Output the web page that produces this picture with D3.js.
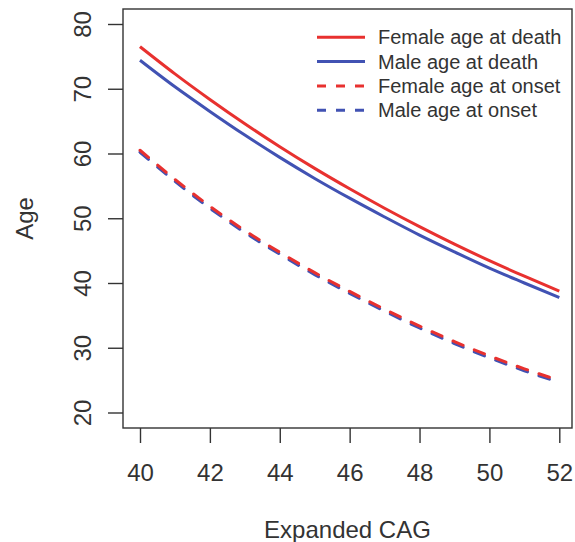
<!DOCTYPE html>
<html>
<head>
<meta charset="utf-8">
<script src="https://cdn.jsdelivr.net/npm/d3@7"></script>
<style>
  body { margin: 0; background: #fff; }
  svg { display: block; }
  text { font-family: "Liberation Sans", Arial, sans-serif; fill: #333; }
</style>
</head>
<body>
<svg id="chart" width="575" height="542"></svg>
<script>
// values, one per CAG repeat length
var cag = [40, 41, 42, 43, 44, 45, 46, 47, 48, 49, 50, 51, 52];
var femaleDeath = [76.5, 72.3, 68.35, 64.6, 61.05, 57.7, 54.55, 51.55, 48.7, 46.0, 43.45, 41.05, 38.75];
var maleDeath   = [74.4, 70.3, 66.5, 62.85, 59.4, 56.15, 53.1, 50.2, 47.4, 44.8, 42.3, 40.0, 37.75];
var femaleOnset = [60.5, 56.0, 51.85, 48.1, 44.75, 41.6, 38.7, 35.95, 33.35, 30.95, 28.75, 26.75, 24.95];
var maleOnset   = [60.2, 55.7, 51.55, 47.8, 44.45, 41.3, 38.4, 35.65, 33.05, 30.65, 28.45, 26.45, 24.65];
var xTicks = [40, 42, 44, 46, 48, 50, 52];
var yTicks = [20, 30, 40, 50, 60, 70, 80];

var red = "#e8312f", blue = "#4152b3";
var series = [
  {name: "Female age at death", values: femaleDeath, color: red, dash: null},
  {name: "Male age at death", values: maleDeath, color: blue, dash: null},
  {name: "Female age at onset", values: femaleOnset, color: red, dash: "11,12"},
  {name: "Male age at onset", values: maleOnset, color: blue, dash: "11,12"}
];

var svg = d3.select("svg#chart");
var box = {left: 123, right: 572, top: 9, bottom: 428};

var x = d3.scaleLinear().domain([40, 52]).range([140, 559.3]);
var y = d3.scaleLinear().domain([20, 80]).range([412.5, 24]);

// plot frame
svg.append("rect")
  .attr("x", box.left).attr("y", box.top)
  .attr("width", box.right - box.left).attr("height", box.bottom - box.top)
  .attr("fill", "none").attr("stroke", "#333").attr("stroke-width", 1.4);

// axes, R style: ticks outward, no domain line
var xAxis = svg.append("g")
  .attr("transform", "translate(0," + box.bottom + ")")
  .call(d3.axisBottom(x).tickValues(xTicks).tickSize(15).tickPadding(20));
var yAxis = svg.append("g")
  .attr("transform", "translate(" + box.left + ",0)")
  .call(d3.axisLeft(y).tickValues(yTicks).tickSize(15));
[xAxis, yAxis].forEach(function(g) {
  g.select(".domain").remove();
  g.selectAll(".tick line").attr("stroke", "#333").attr("stroke-width", 1.4);
  g.selectAll(".tick text")
    .attr("fill", "#333")
    .style("font-family", '"Liberation Sans", Arial, sans-serif')
    .style("font-size", "24px");
});
xAxis.selectAll(".tick text").attr("dy", null).attr("y", 53);
yAxis.selectAll(".tick text")
  .attr("x", null).attr("dy", null)
  .attr("text-anchor", "middle")
  .attr("transform", "translate(-32,0) rotate(-90)");

// axis titles
svg.append("text")
  .attr("x", (box.left + box.right) / 2).attr("y", 538)
  .attr("text-anchor", "middle").style("font-size", "24px")
  .text("Expanded CAG");
svg.append("text")
  .attr("transform", "translate(33," + (box.top + box.bottom) / 2 + ") rotate(-90)")
  .attr("text-anchor", "middle").style("font-size", "24px")
  .text("Age");

// lines
var line = d3.line()
  .x(function(d, i) { return x(cag[i]); })
  .y(function(d) { return y(d); })
  .curve(d3.curveMonotoneX);

// draw onset first (male under female), then death
[series[3], series[2], series[1], series[0]].forEach(function(s) {
  svg.append("path")
    .datum(s.values)
    .attr("d", line)
    .attr("fill", "none")
    .attr("stroke", s.color)
    .attr("stroke-width", 3)
    .attr("stroke-linecap", s.dash ? "round" : "butt")
    .attr("stroke-dasharray", s.dash);
});

// legend
var legend = svg.append("g");
series.forEach(function(s, i) {
  var ly = 37.3 + i * 24.3;
  legend.append("line")
    .attr("x1", 317).attr("x2", 365).attr("y1", ly).attr("y2", ly)
    .attr("stroke", s.color).attr("stroke-width", 3)
    .attr("stroke-dasharray", s.dash ? "9,10" : null);
  legend.append("text")
    .attr("x", 378).attr("y", ly + 7)
    .style("font-size", "20px")
    .text(s.name);
});
</script>
</body>
</html>
